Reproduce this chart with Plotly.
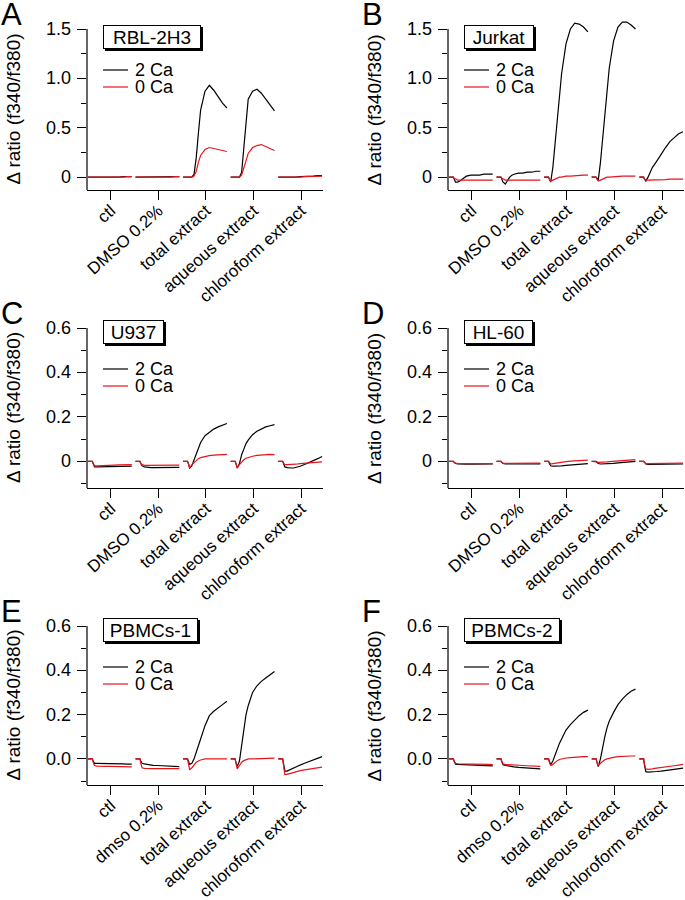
import plotly.graph_objects as go

# time points inside each recording (fraction of the recording)
t = [0, 0.1, 0.12, 0.15, 0.2, 0.25, 0.3, 0.35, 0.4, 0.5, 0.6, 0.7, 0.8, 0.9, 1.0]

categories = ["ctl", "DMSO 0.2%", "total extract", "aqueous extract", "chloroform extract"]
categories_pbmc = ["ctl", "dmso 0.2%", "total extract", "aqueous extract", "chloroform extract"]

# A  RBL-2H3
rbl_2ca = [
    [0, 0, 0, -0.005, -0.005, -0.005, -0.005, 0, 0, 0, 0, 0, 0.005, 0.005, 0.005],
    [0, 0, 0, 0, 0, 0, 0, 0, 0, 0, 0, 0.005, 0.005, 0.005, 0.005],
    [0, 0, 0, 0, 0, 0.03, 0.2, 0.45, 0.68, 0.87, 0.93, 0.88, 0.81, 0.75, 0.70],
    [0, 0, 0, 0, 0, 0.05, 0.3, 0.6, 0.79, 0.87, 0.89, 0.85, 0.79, 0.73, 0.67],
    [0, 0, 0, -0.005, -0.005, 0, 0, 0, 0, 0.005, 0.005, 0.01, 0.01, 0.015, 0.015],
]
rbl_0ca = [
    [0, 0, 0, -0.005, -0.005, -0.005, 0, 0, 0, 0, 0, 0, 0, 0.005, 0.005],
    [0, 0, 0, -0.005, 0, 0, 0, 0, 0, 0, 0, 0, 0, 0.005, 0.005],
    [0, 0, 0, 0, 0, 0.01, 0.06, 0.15, 0.22, 0.28, 0.30, 0.29, 0.28, 0.27, 0.26],
    [0, 0, 0, 0, 0, 0.02, 0.10, 0.18, 0.24, 0.30, 0.32, 0.33, 0.31, 0.29, 0.27],
    [0, 0, 0, -0.005, 0, 0, 0, 0, 0, 0, 0.005, 0.005, 0.005, 0.01, 0.01],
]

# B  Jurkat
jurkat_2ca = [
    [0, 0, -0.02, -0.05, -0.05, -0.04, -0.02, 0, 0.01, 0.02, 0.02, 0.02, 0.03, 0.03, 0.03],
    [0, 0, -0.02, -0.05, -0.07, -0.03, 0.0, 0.02, 0.03, 0.04, 0.04, 0.05, 0.05, 0.06, 0.06],
    [0, 0, -0.02, -0.05, 0.1, 0.35, 0.6, 0.85, 1.05, 1.35, 1.5, 1.56, 1.55, 1.52, 1.47],
    [0, 0, -0.01, -0.03, 0.15, 0.38, 0.6, 0.83, 1.1, 1.38, 1.52, 1.57, 1.57, 1.54, 1.5],
    [0, 0, -0.02, -0.04, 0.0, 0.05, 0.1, 0.13, 0.16, 0.23, 0.3, 0.36, 0.4, 0.44, 0.46],
]
jurkat_0ca = [
    [0, 0, -0.01, -0.02, -0.03, -0.03, -0.03, -0.03, -0.03, -0.03, -0.03, -0.03, -0.03, -0.03, -0.03],
    [0, 0, -0.01, -0.02, -0.03, -0.03, -0.03, -0.03, -0.03, -0.03, -0.03, -0.03, -0.03, -0.03, -0.03],
    [0, 0, -0.02, -0.04, -0.03, -0.02, -0.01, 0, 0, 0.01, 0.01, 0.015, 0.015, 0.02, 0.02],
    [0, 0, -0.02, -0.04, -0.03, -0.02, -0.01, 0, 0, 0.005, 0.01, 0.01, 0.01, 0.01, 0.01],
    [0, 0, -0.02, -0.03, -0.03, -0.03, -0.03, -0.03, -0.03, -0.025, -0.025, -0.02, -0.02, -0.02, -0.02],
]

# C  U937
u937_2ca = [
    [0, 0, -0.01, -0.025, -0.025, -0.025, -0.025, -0.025, -0.025, -0.025, -0.024, -0.024, -0.023, -0.022, -0.022],
    [0, 0, -0.01, -0.02, -0.025, -0.027, -0.028, -0.028, -0.028, -0.028, -0.028, -0.027, -0.027, -0.027, -0.027],
    [0, 0, -0.01, -0.03, -0.02, 0.005, 0.03, 0.055, 0.085, 0.115, 0.13, 0.145, 0.155, 0.163, 0.17],
    [0, 0, -0.01, -0.03, -0.01, 0.03, 0.055, 0.08, 0.095, 0.12, 0.135, 0.147, 0.155, 0.16, 0.165],
    [0, 0, -0.01, -0.025, -0.028, -0.03, -0.03, -0.03, -0.028, -0.022, -0.014, -0.006, 0.003, 0.012, 0.022],
]
u937_0ca = [
    [0, 0, -0.01, -0.02, -0.02, -0.02, -0.018, -0.018, -0.018, -0.017, -0.017, -0.016, -0.016, -0.016, -0.015],
    [0, 0, -0.01, -0.015, -0.018, -0.018, -0.018, -0.018, -0.018, -0.018, -0.018, -0.018, -0.017, -0.017, -0.017],
    [0, 0, -0.01, -0.03, -0.015, -0.005, 0.005, 0.012, 0.017, 0.022, 0.026, 0.028, 0.03, 0.031, 0.031],
    [0, 0, -0.01, -0.03, -0.015, -0.003, 0.007, 0.014, 0.018, 0.023, 0.027, 0.029, 0.031, 0.031, 0.03],
    [0, 0, -0.008, -0.015, -0.015, -0.015, -0.015, -0.015, -0.013, -0.01, -0.008, -0.006, -0.004, -0.003, -0.002],
]

# D  HL-60
hl60_2ca = [
    [0, 0, -0.005, -0.01, -0.012, -0.013, -0.013, -0.013, -0.013, -0.013, -0.013, -0.012, -0.012, -0.012, -0.012],
    [0, 0, -0.005, -0.01, -0.012, -0.012, -0.012, -0.012, -0.012, -0.012, -0.012, -0.012, -0.012, -0.011, -0.011],
    [0, 0, -0.01, -0.02, -0.022, -0.022, -0.022, -0.021, -0.02, -0.018, -0.016, -0.014, -0.012, -0.01, -0.01],
    [0, 0, -0.004, -0.01, -0.012, -0.012, -0.012, -0.011, -0.01, -0.009, -0.007, -0.005, -0.003, -0.002, 0],
    [0, 0, -0.005, -0.012, -0.014, -0.014, -0.014, -0.014, -0.014, -0.013, -0.013, -0.013, -0.012, -0.012, -0.012],
]
hl60_0ca = [
    [0, 0, -0.004, -0.008, -0.009, -0.01, -0.01, -0.01, -0.01, -0.01, -0.01, -0.01, -0.01, -0.01, -0.01],
    [0, 0, -0.004, -0.008, -0.009, -0.009, -0.009, -0.009, -0.008, -0.008, -0.008, -0.008, -0.008, -0.008, -0.008],
    [0, 0, -0.005, -0.012, -0.01, -0.008, -0.006, -0.004, -0.003, -0.001, 0.001, 0.002, 0.003, 0.004, 0.005],
    [0, 0, -0.003, -0.005, -0.005, -0.004, -0.003, -0.002, -0.001, 0, 0.002, 0.003, 0.005, 0.006, 0.008],
    [0, 0, -0.004, -0.01, -0.01, -0.01, -0.01, -0.009, -0.009, -0.009, -0.008, -0.008, -0.008, -0.008, -0.008],
]

# E  PBMCs-1
pbmc1_2ca = [
    [0, 0, -0.01, -0.02, -0.02, -0.02, -0.02, -0.021, -0.021, -0.022, -0.022, -0.023, -0.023, -0.024, -0.024],
    [0, 0, -0.01, -0.02, -0.023, -0.025, -0.027, -0.028, -0.029, -0.03, -0.031, -0.032, -0.033, -0.034, -0.035],
    [0, 0, -0.01, -0.025, -0.02, 0.0, 0.03, 0.065, 0.09, 0.15, 0.195, 0.215, 0.232, 0.245, 0.26],
    [0, 0, -0.015, -0.035, -0.01, 0.06, 0.13, 0.2, 0.24, 0.3, 0.33, 0.35, 0.365, 0.38, 0.395],
    [0, 0, -0.02, -0.055, -0.055, -0.05, -0.045, -0.04, -0.035, -0.028, -0.02, -0.012, -0.005, 0.003, 0.01],
]
pbmc1_0ca = [
    [0, 0, -0.015, -0.03, -0.033, -0.034, -0.034, -0.034, -0.034, -0.034, -0.034, -0.035, -0.035, -0.036, -0.036],
    [0, 0, -0.02, -0.04, -0.043, -0.044, -0.044, -0.044, -0.044, -0.044, -0.044, -0.044, -0.044, -0.044, -0.044],
    [0, 0, -0.02, -0.05, -0.04, -0.025, -0.015, -0.01, -0.005, 0, 0, 0, 0, 0, 0],
    [0, 0, -0.02, -0.045, -0.03, -0.015, -0.008, -0.004, 0, 0, 0, 0.003, 0.003, 0.003, 0.003],
    [0, 0, -0.03, -0.07, -0.07, -0.067, -0.063, -0.06, -0.057, -0.053, -0.05, -0.046, -0.043, -0.04, -0.037],
]

# F  PBMCs-2
pbmc2_2ca = [
    [0, 0, -0.012, -0.024, -0.025, -0.025, -0.026, -0.026, -0.027, -0.027, -0.028, -0.029, -0.03, -0.031, -0.032],
    [0, 0, -0.012, -0.027, -0.03, -0.032, -0.034, -0.035, -0.036, -0.038, -0.039, -0.04, -0.042, -0.043, -0.045],
    [0, 0, -0.01, -0.027, -0.01, 0.02, 0.045, 0.07, 0.09, 0.13, 0.155, 0.175, 0.195, 0.21, 0.22],
    [0, 0, -0.015, -0.035, 0.0, 0.06, 0.1, 0.14, 0.17, 0.21, 0.245, 0.27, 0.29, 0.305, 0.315],
    [0, 0, -0.03, -0.058, -0.06, -0.06, -0.06, -0.058, -0.057, -0.055, -0.052, -0.05, -0.047, -0.045, -0.042],
]
pbmc2_0ca = [
    [0, 0, -0.01, -0.02, -0.022, -0.022, -0.022, -0.022, -0.022, -0.023, -0.023, -0.024, -0.024, -0.025, -0.026],
    [0, 0, -0.01, -0.022, -0.025, -0.026, -0.027, -0.028, -0.028, -0.029, -0.03, -0.031, -0.032, -0.033, -0.034],
    [0, 0, -0.015, -0.03, -0.025, -0.015, -0.008, -0.003, 0, 0.004, 0.006, 0.008, 0.009, 0.01, 0.01],
    [0, 0, -0.015, -0.03, -0.02, -0.01, -0.004, 0, 0.003, 0.007, 0.01, 0.012, 0.013, 0.013, 0.013],
    [0, 0, -0.025, -0.045, -0.047, -0.047, -0.045, -0.043, -0.042, -0.04, -0.037, -0.034, -0.031, -0.028, -0.025],
]

W, H = 685, 900
FONT = "Liberation Sans, Arial, Helvetica, sans-serif"

# panel geometry in pixels: (left, right) and (top of axis line, bottom)
cols = [(87, 323), (448, 684)]
rows = [(29, 190), (328, 488), (626, 785)]

panels = [
    dict(letter="A", name="RBL-2H3", black=rbl_2ca, red=rbl_0ca, cats=categories,
         yr=[-0.13, 1.5], tv=[0, 0.5, 1.0, 1.5], tt=["0", "0.5", "1.0", "1.5"], minor=0.25, bw=100),
    dict(letter="B", name="Jurkat", black=jurkat_2ca, red=jurkat_0ca, cats=categories,
         yr=[-0.13, 1.5], tv=[0, 0.5, 1.0, 1.5], tt=["0", "0.5", "1.0", "1.5"], minor=0.25, bw=72),
    dict(letter="C", name="U937", black=u937_2ca, red=u937_0ca, cats=categories,
         yr=[-0.12, 0.6], tv=[0, 0.2, 0.4, 0.6], tt=["0", "0.2", "0.4", "0.6"], minor=0.1, bw=63),
    dict(letter="D", name="HL-60", black=hl60_2ca, red=hl60_0ca, cats=categories,
         yr=[-0.12, 0.6], tv=[0, 0.2, 0.4, 0.6], tt=["0", "0.2", "0.4", "0.6"], minor=0.1, bw=71),
    dict(letter="E", name="PBMCs-1", black=pbmc1_2ca, red=pbmc1_0ca, cats=categories_pbmc,
         yr=[-0.118, 0.6], tv=[0, 0.2, 0.4, 0.6], tt=["0.0", "0.2", "0.4", "0.6"], minor=0.1, bw=97),
    dict(letter="F", name="PBMCs-2", black=pbmc2_2ca, red=pbmc2_0ca, cats=categories_pbmc,
         yr=[-0.118, 0.6], tv=[0, 0.2, 0.4, 0.6], tt=["0.0", "0.2", "0.4", "0.6"], minor=0.1, bw=98),
]

HEADROOM = 14  # px of plot area above the top tick so peaks are not clipped


def px(x):
    return x / W


def py(y):
    return 1 - y / H


fig = go.Figure()
annotations = []
shapes = []
layout = {}

for k, p in enumerate(panels):
    n = k + 1
    xa = "x" if n == 1 else "x%d" % n
    ya = "y" if n == 1 else "y%d" % n
    left, right = cols[k % 2]
    top, bottom = rows[k // 2]
    lo, hi = p["yr"]
    per_px = (hi - lo) / (bottom - top)
    y_top = hi + HEADROOM * per_px

    # traces, one per recording segment
    for colour, segs in (("black", p["black"]), ("#e8141b", p["red"])):
        for i, seg in enumerate(segs):
            xs = [i - 0.48 + 0.92 * tt for tt in t]
            fig.add_trace(go.Scatter(x=xs, y=seg, mode="lines", xaxis=xa, yaxis=ya,
                                     line=dict(color=colour, width=1.2),
                                     showlegend=False, hoverinfo="skip"))

    layout["xaxis" if n == 1 else "xaxis%d" % n] = dict(
        domain=[px(left), px(right)], anchor=ya, range=[-0.5, 4.46], automargin=False,
        showline=True, linecolor="black", linewidth=1.2, showgrid=False, zeroline=False,
        ticks="outside", ticklen=9, tickwidth=1.2, tickcolor="black",
        tickvals=[0, 1, 2, 3, 4], ticktext=p["cats"], tickangle=-42, ticklabelstandoff=-6,
        tickfont=dict(family=FONT, size=17, color="black"))
    layout["yaxis" if n == 1 else "yaxis%d" % n] = dict(
        domain=[py(bottom), py(top - HEADROOM)], anchor=xa, range=[lo, y_top], automargin=False,
        showline=False, showgrid=False, zeroline=False, showticklabels=False,
        ticks="outside", ticklen=9, tickwidth=1.2, tickcolor="black", tickvals=p["tv"],
        minor=dict(tickvals=[v + p["minor"] for v in p["tv"][:-1]] + [-p["minor"]],
                   ticks="outside", ticklen=5, tickcolor="black", tickwidth=1.2))
    # y axis line only up to the top tick
    shapes.append(dict(type="line", xref=xa + " domain", yref=ya, x0=0, x1=0, y0=lo, y1=hi,
                       line=dict(color="black", width=1.2)))
    # y tick labels
    for v, lab in zip(p["tv"], p["tt"]):
        annotations.append(dict(text=lab, x=px(left - 14), y=v, xref="paper", yref=ya,
                                xanchor="right", yanchor="middle", showarrow=False,
                                font=dict(family=FONT, size=18, color="black")))

    # panel letter
    annotations.append(dict(text=p["letter"], x=px(left - 87 - 1), y=py(top - 29 - 5), xref="paper", yref="paper",
                            xanchor="left", yanchor="top", showarrow=False,
                            font=dict(family=FONT, size=31, color="black")))
    # y title
    annotations.append(dict(text="Δ ratio (f340/f380)", x=px(left - 74), y=py((top + bottom) / 2),
                            xref="paper", yref="paper", textangle=-90, showarrow=False,
                            xanchor="center", yanchor="middle",
                            font=dict(family=FONT, size=19, color="black")))
    # cell line label with a drop shadow (blank box behind, same fixed size)
    bx, by = left + 16, top + 8 if k < 2 else top + 4
    for shadow in (True, False):
        annotations.append(dict(text=" " if shadow else p["name"], x=px(bx), y=py(by),
                                xref="paper", yref="paper",
                                xanchor="left", yanchor="middle", showarrow=False,
                                width=p["bw"] - 8, height=18, borderpad=2,
                                bgcolor="black" if shadow else "white",
                                bordercolor="black", borderwidth=1,
                                xshift=2 if shadow else 0, yshift=-2 if shadow else 0,
                                font=dict(family=FONT, size=19, color="black")))
    # inline legend
    for j, (lab, colour) in enumerate((("2 Ca", "black"), ("0 Ca", "#e8141b"))):
        ly = top + 41 + 17 * j
        shapes.append(dict(type="line", xref="paper", yref="paper",
                           x0=px(left + 16), x1=px(left + 41), y0=py(ly), y1=py(ly),
                           line=dict(color=colour, width=1.2)))
        annotations.append(dict(text=lab, x=px(left + 46), y=py(ly), xref="paper", yref="paper",
                                xanchor="left", yanchor="middle", showarrow=False, height=16,
                                font=dict(family=FONT, size=18, color="black")))

fig.update_layout(width=W, height=H, margin=dict(l=0, r=0, t=0, b=0, autoexpand=False),
                  paper_bgcolor="white", plot_bgcolor="white",
                  annotations=annotations, shapes=shapes, **layout)

# the page body has a default margin; drop it so the figure sits at the window corner
fig.write_html("out.html", config={"displayModeBar": False},
               post_script="document.body.style.margin = '0';")
